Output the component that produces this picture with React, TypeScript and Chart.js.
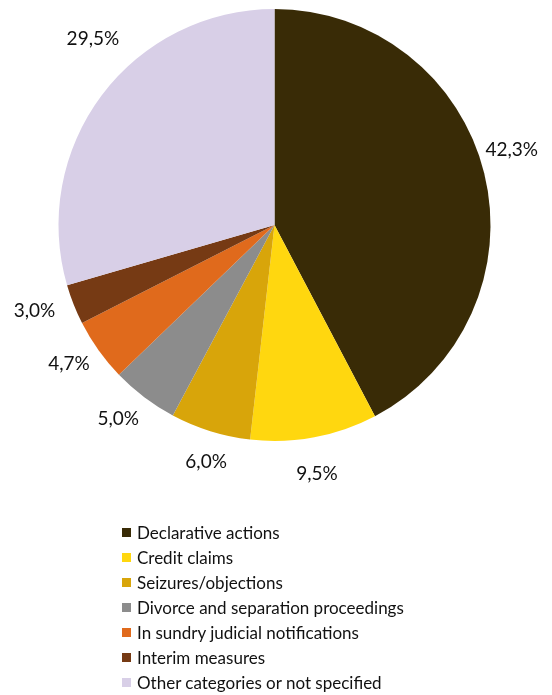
import React, { useEffect, useRef } from "react";
import { Chart, registerables } from "chart.js";

Chart.register(...registerables);

const categories: string[] = [
  "Declarative actions",
  "Credit claims",
  "Seizures/objections",
  "Divorce and separation proceedings",
  "In sundry judicial notifications",
  "Interim measures",
  "Other categories or not specified",
];
const shares: number[] = [42.3, 9.5, 6.0, 5.0, 4.7, 3.0, 29.5];
const sliceColors: string[] = [
  "#392B06",
  "#FFD70F",
  "#D8A50A",
  "#8C8C8C",
  "#E06A1C",
  "#763A14",
  "#D8CFE7",
];

// label placement tweaks relative to each slice (degrees of rotation, px beyond the rim)
const labelAngleNudge: number[] = [-3.8, 0.9, -1.2, 1.8, 1.4, 1.9, 8.8];
const labelGap: number[] = [33, 36, 31, 33, 32, 39, 44];

const FONT = "Lato, 'Open Sans', sans-serif";

const labelPlugin = {
  id: "outsideLabels",
  afterDatasetsDraw(chart: any) {
    const ctx = chart.ctx;
    const meta = chart.getDatasetMeta(0);
    ctx.save();
    ctx.font = `19px ${FONT}`;
    ctx.fillStyle = "#111111";
    ctx.textAlign = "center";
    ctx.textBaseline = "middle";
    meta.data.forEach((arc: any, i: number) => {
      const mid = (arc.startAngle + arc.endAngle) / 2 + (labelAngleNudge[i] * Math.PI) / 180;
      const d = arc.outerRadius + labelGap[i];
      const x = arc.x + Math.cos(mid) * d;
      const y = arc.y + Math.sin(mid) * d;
      const txt = shares[i].toFixed(1).replace(".", ",") + "%";
      ctx.fillText(txt, x, y);
    });
    ctx.restore();
  },
};

export default function App() {
  const ref = useRef<HTMLCanvasElement | null>(null);
  useEffect(() => {
    document.documentElement.style.overflow = "hidden";
    document.body.style.overflow = "hidden";
    if (!ref.current) return;
    const chart = new Chart(ref.current, {
      type: "pie",
      data: {
        labels: categories,
        datasets: [
          {
            data: shares,
            backgroundColor: sliceColors,
            borderWidth: 0,
          },
        ],
      },
      options: {
        animation: false,
        responsive: true,
        maintainAspectRatio: false,
        layout: { padding: { top: 1, bottom: 254, left: 0, right: 3 } },
        plugins: {
          legend: { display: false },
          tooltip: { enabled: false },
        },
      },
      plugins: [labelPlugin],
    });
    return () => chart.destroy();
  }, []);

  return (
    <div style={{ position: "relative", width: 536, height: 687, fontFamily: FONT }}>
      <canvas ref={ref} style={{ position: "absolute", left: 0, top: 0 }} />
      <div style={{ position: "absolute", left: 114, top: 512 }}>
        {categories.map((c, i) => (
          <div
            key={c}
            style={{
              display: "flex",
              alignItems: "center",
              height: 25,
              fontSize: 17,
              lineHeight: "20px",
              color: "#111111",
              whiteSpace: "nowrap",
            }}
          >
            <span
              style={{
                display: "inline-block",
                width: 9,
                height: 9,
                background: sliceColors[i],
                marginRight: 6,
              }}
            />
            {c}
          </div>
        ))}
      </div>
    </div>
  );
}
